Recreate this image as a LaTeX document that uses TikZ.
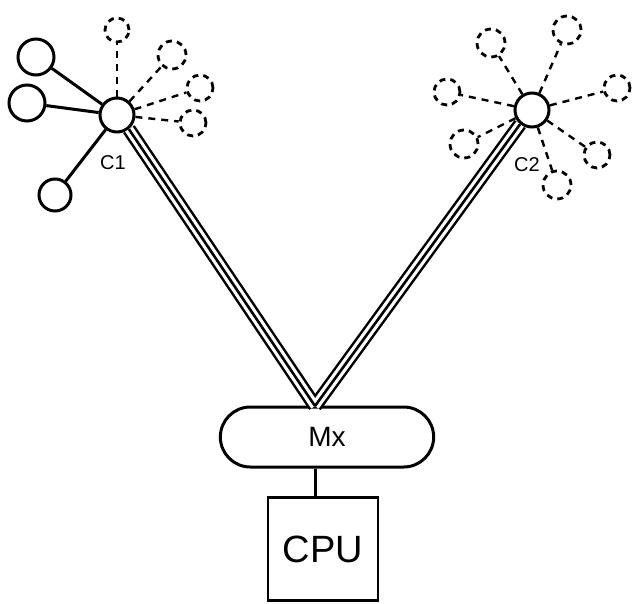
\documentclass[tikz,border=0pt]{standalone}
\usepackage{fontspec}
\setmainfont{Liberation Sans}
\usetikzlibrary{shapes.misc}
\begin{document}
\begin{tikzpicture}[x=1pt,y=-1pt,
  hub/.style={circle,draw,line width=3pt,minimum size=34pt,inner sep=0pt},
  sat/.style={circle,draw,line width=3pt,minimum size=#1,inner sep=0pt},
  dsat/.style={circle,draw,line width=2.8pt,dash pattern=on 6pt off 5pt,minimum size=#1,inner sep=0pt},
  link/.style={line width=3pt},
  dlink/.style={line width=2.4pt,dash pattern=on 7pt off 6pt},
  trunkA/.style={line width=14pt,line cap=butt},
  trunkB/.style={line width=9pt,white,line cap=butt},
  trunkC/.style={line width=2.6pt,line cap=butt},
  lbl/.style={font=\fontsize{20}{22}\selectfont}]
\useasboundingbox (0,0) rectangle (635,603);
% cluster 1
\node[hub] (c1) at (117,115) {};
\node[sat=36pt] (s1) at (36,57) {};
\node[sat=36pt] (s2) at (27,103) {};
\node[sat=32pt] (s3) at (55,195) {};
\draw[link] (c1) -- (s1);
\draw[link] (c1) -- (s2);
\draw[link] (c1) -- (s3);
\node[dsat=24pt] (d1) at (117,30) {};
\node[dsat=28pt] (d2) at (172,55) {};
\node[dsat=26pt] (d3) at (200,88) {};
\node[dsat=26pt] (d4) at (193,123) {};
\foreach \d in {d1,d2,d3,d4} \draw[dlink] (c1) -- (\d);
\node[lbl] (l1) at (113,163) {C1};
% cluster 2
\node[hub] (c2) at (532,110) {};
\node[dsat=28pt] (e1) at (491,43) {};
\node[dsat=28pt] (e2) at (567,30) {};
\node[dsat=26pt] (e3) at (447,92) {};
\node[dsat=26pt] (e4) at (617,88) {};
\node[dsat=28pt] (e5) at (464,144) {};
\node[dsat=26pt] (e6) at (597,155) {};
\node[dsat=28pt] (e7) at (557,185) {};
\foreach \e in {e1,e2,e3,e4,e5,e6,e7} \draw[dlink] (c2) -- (\e);
\node[lbl] (l2) at (527,165) {C2};
% Mx and CPU
\node[draw,line width=3pt,rounded rectangle,minimum width=220pt,minimum height=60pt,font=\fontsize{28}{30}\selectfont] (mx) at (327,437) {Mx};
\node[draw,line width=2.2pt,minimum width=110pt,minimum height=103pt,font=\fontsize{38}{40}\selectfont] (cpu) at (323,549) {CPU};
\draw[link] (mx.south -| 315,0) -- (cpu.north -| 315,0);
% trunks
\coordinate (j) at (315,406);
\foreach \s in {trunkA,trunkB,trunkC} {
  \draw[\s] (c1.-50) -- (j);
  \draw[\s] (c2.-130) -- (j);
}
\end{tikzpicture}
\end{document}
